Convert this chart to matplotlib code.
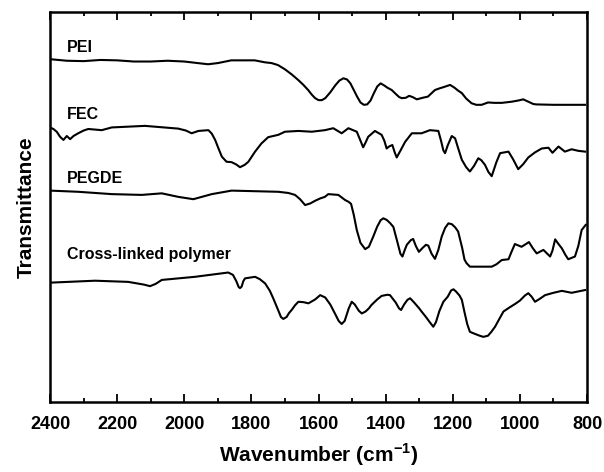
import matplotlib.pyplot as plt
from matplotlib.ticker import MultipleLocator

plt.rcParams['font.family'] = ['Liberation Sans', 'DejaVu Sans']
plt.rcParams['mathtext.fontset'] = 'custom'
plt.rcParams['mathtext.bf'] = 'Liberation Sans:bold'

# --- spectra (wavenumber cm-1, transmittance a.u.) ---
pei_wn = [2400, 2350, 2300, 2250, 2200, 2150, 2100, 2050, 2000, 1960, 1929,
          1900, 1860, 1790, 1760, 1740, 1721, 1700, 1680, 1661, 1645, 1631,
          1620, 1610, 1600, 1590, 1580, 1565, 1550, 1538, 1526, 1515, 1505,
          1495, 1485, 1475, 1465, 1455, 1445, 1435, 1425, 1415, 1405, 1395,
          1382, 1370, 1360, 1352, 1340, 1330, 1320, 1307, 1290, 1274, 1263,
          1253, 1240, 1225, 1208, 1195, 1185, 1173, 1160, 1144, 1130, 1114,
          1095, 1075, 1054, 1024, 1005, 990, 975, 960, 950, 900, 806]
pei_t = [87.9, 87.5, 87.4, 87.7, 87.6, 87.3, 87.3, 87.5, 87.3, 86.9, 86.6,
         86.9, 87.6, 87.6, 87.1, 86.9, 86.4, 85.3, 84.0, 82.6, 81.3, 80.0,
         78.8, 77.9, 77.4, 77.4, 77.9, 79.4, 81.2, 82.4, 83.0, 82.7, 81.7,
         80.0, 78.3, 76.8, 76.2, 76.3, 77.3, 79.2, 80.9, 81.7, 81.2, 80.6,
         80.0, 79.0, 78.2, 77.9, 78.0, 78.5, 78.2, 77.6, 78.0, 78.3, 79.2,
         80.0, 80.4, 80.8, 81.3, 80.6, 79.9, 79.2, 77.8, 76.6, 76.2, 76.2,
         76.8, 76.7, 76.7, 77.0, 77.3, 77.6, 77.0, 76.4, 76.3, 76.2, 76.2]

fec_wn = [2400, 2390, 2380, 2370, 2360, 2350, 2340, 2330, 2316, 2300, 2286,
          2246, 2216, 2117, 2018, 1995, 1978, 1958, 1928, 1918, 1908, 1898,
          1888, 1874, 1859, 1845, 1834, 1820, 1809, 1789, 1770, 1750, 1720,
          1700, 1660, 1620, 1581, 1556, 1531, 1511, 1486, 1475, 1467, 1460,
          1452, 1432, 1412, 1404, 1397, 1390, 1380, 1373, 1367, 1355, 1342,
          1322, 1293, 1268, 1243, 1235, 1228, 1223, 1215, 1203, 1193, 1183,
          1173, 1160, 1149, 1137, 1124, 1115, 1104, 1094, 1084, 1070, 1059,
          1034, 1020, 1005, 990, 975, 955, 935, 915, 903, 885, 866, 846, 826,
          806]
fec_t = [70.4, 70.0, 69.3, 68.0, 67.2, 68.2, 67.4, 68.2, 68.9, 69.6, 70.0,
         69.7, 70.4, 70.8, 70.1, 69.6, 68.9, 69.5, 69.7, 68.8, 67.2, 65.0,
         62.9, 61.6, 61.5, 60.9, 60.2, 60.8, 61.6, 64.2, 66.3, 67.9, 68.5,
         69.3, 69.5, 69.3, 69.7, 70.2, 68.9, 70.2, 69.3, 67.0, 65.3, 66.5,
         68.0, 69.5, 68.5, 67.0, 65.0, 65.5, 65.9, 64.0, 62.7, 64.6, 66.7,
         68.9, 68.9, 69.7, 69.5, 67.0, 64.5, 63.8, 65.8, 68.2, 67.6, 64.8,
         62.1, 60.2, 59.1, 60.5, 62.5, 62.0, 60.8, 59.0, 57.9, 61.5, 63.8,
         64.2, 62.2, 59.7, 61.0, 62.7, 64.0, 65.0, 65.2, 63.9, 65.5, 64.2,
         64.8, 64.4, 64.2]

pegde_wn = [2400, 2316, 2216, 2127, 2067, 2018, 1973, 1918, 1859, 1720, 1690,
            1670, 1655, 1640, 1625, 1610, 1595, 1581, 1571, 1541, 1521, 1510,
            1503, 1495, 1486, 1475, 1461, 1450, 1437, 1425, 1415, 1407, 1397,
            1387, 1377, 1365, 1356, 1350, 1343, 1337, 1325, 1318, 1310, 1301,
            1290, 1280, 1273, 1263, 1253, 1243, 1233, 1223, 1213, 1203, 1193,
            1184, 1172, 1165, 1159, 1149, 1084, 1070, 1054, 1034, 1025, 1015,
            995, 973, 962, 950, 930, 910, 903, 895, 885, 875, 865, 856, 836,
            826, 816, 804]
pegde_t = [54.2, 53.9, 53.3, 53.1, 53.5, 52.6, 52.0, 53.3, 54.2, 53.9, 53.6,
           53.1, 52.0, 50.5, 50.9, 51.6, 52.2, 52.6, 53.3, 53.1, 51.8, 51.3,
           50.8, 48.0, 44.1, 40.8, 39.2, 39.8, 42.4, 45.0, 46.6, 47.1, 46.7,
           45.9, 44.9, 41.0, 38.0, 37.3, 39.0, 40.3, 41.5, 41.8, 40.0, 38.5,
           39.5, 40.3, 40.1, 38.0, 36.7, 39.0, 42.4, 44.6, 45.8, 45.6, 44.8,
           43.7, 39.5, 36.5, 35.6, 34.7, 34.7, 35.3, 36.4, 36.6, 38.5, 40.5,
           39.8, 41.0, 39.5, 38.1, 39.0, 37.3, 38.8, 41.7, 40.5, 39.4, 37.8,
           36.6, 37.3, 40.0, 44.1, 45.4]

xl_wn = [2400, 2266, 2167, 2120, 2102, 2085, 2067, 1968, 1869, 1855, 1845,
         1838, 1834, 1829, 1824, 1819, 1789, 1775, 1759, 1745, 1735, 1720,
         1712, 1705, 1695, 1688, 1680, 1670, 1660, 1645, 1630, 1610, 1595,
         1580, 1565, 1550, 1540, 1531, 1522, 1510, 1501, 1492, 1480, 1471,
         1460, 1450, 1442, 1425, 1412, 1395, 1387, 1370, 1360, 1354, 1345,
         1335, 1327, 1315, 1300, 1293, 1280, 1268, 1258, 1250, 1240, 1228,
         1215, 1205, 1198, 1190, 1180, 1173, 1165, 1157, 1149, 1135, 1120,
         1109, 1095, 1085, 1074, 1060, 1049, 1030, 1015, 1000, 985, 975, 965,
         955, 940, 925, 900, 875, 846, 806]
xl_t = [30.6, 31.1, 30.8, 30.1, 29.7, 30.3, 31.3, 32.1, 33.2, 32.6, 31.0,
        29.5, 29.2, 29.6, 31.0, 31.7, 32.1, 31.5, 30.4, 28.5, 26.6, 23.5,
        21.8, 21.3, 21.8, 22.8, 23.6, 24.8, 25.7, 25.6, 25.3, 26.3, 27.4,
        26.8, 25.0, 22.5, 20.8, 20.0, 20.8, 24.0, 25.7, 25.0, 23.4, 22.7,
        23.2, 24.0, 24.9, 26.3, 27.2, 27.5, 27.4, 25.5, 24.0, 23.6, 25.0,
        26.2, 26.6, 25.5, 24.0, 23.2, 21.8, 20.4, 19.3, 20.5, 23.3, 25.7,
        27.0, 28.6, 28.9, 28.3, 27.3, 26.2, 23.0, 20.0, 18.0, 17.5, 17.0,
        16.7, 17.0, 18.0, 19.3, 21.5, 23.2, 24.3, 25.1, 26.0, 27.3, 27.9,
        27.0, 25.7, 26.5, 27.4, 28.0, 28.5, 28.0, 28.7]

names = ["PEI", "FEC", "PEGDE", "Cross-linked polymer"]
label_y = [91.0, 73.8, 57.4, 37.7]

fig = plt.figure(figsize=(6.04, 4.72), dpi=100)
ax = fig.add_axes([0.0828, 0.1483, 0.8891, 0.8263])

for wn, t in [(pei_wn, pei_t), (fec_wn, fec_t), (pegde_wn, pegde_t), (xl_wn, xl_t)]:
    ax.plot(wn, t, color="black", lw=1.5, solid_joinstyle="round")

for name, y in zip(names, label_y):
    ax.text(2350, y, name, fontsize=11.5, fontweight="bold", va="center", ha="left")

ax.set_xlim(2400, 800)
ax.set_ylim(0, 100)
ax.xaxis.set_major_locator(MultipleLocator(200))
ax.xaxis.set_minor_locator(MultipleLocator(100))
ax.tick_params(axis="x", which="both", direction="in", top=True, width=1.3,
               labelsize=13, pad=10)
ax.tick_params(axis="x", which="major", length=6)
ax.tick_params(axis="x", which="minor", length=3)
ax.set_yticks([])
for lab in ax.get_xticklabels():
    lab.set_fontweight("bold")
for sp in ax.spines.values():
    sp.set_linewidth(1.8)

ax.set_xlabel("Wavenumber (cm$^{\\mathbf{-1}}$)", fontsize=15, fontweight="bold", labelpad=6)
ax.set_ylabel("Transmittance", fontsize=15, fontweight="bold", labelpad=10)

fig.savefig("out.png", dpi=100)
